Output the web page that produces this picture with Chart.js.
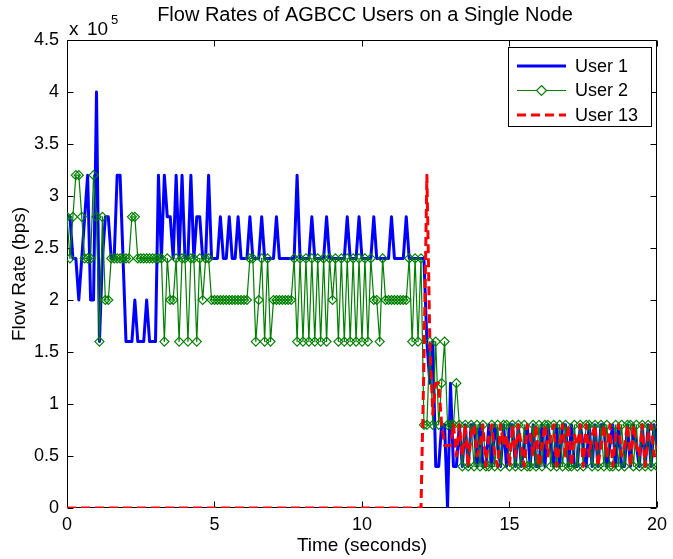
<!DOCTYPE html>
<html>
<head>
<meta charset="utf-8">
<title>Flow Rates of AGBCC Users on a Single Node</title>
<script src="https://cdn.jsdelivr.net/npm/chart.js@4.4.1/dist/chart.umd.min.js"></script>
<style>
  html, body { margin: 0; padding: 0; background: #fff; }
  #wrap { width: 673px; height: 559px; }
</style>
</head>
<body>
<div id="wrap"><canvas id="flowChart" width="673" height="559"></canvas></div>
<script>
// sampling interval of the trace, seconds
const SAMPLE_STEP = 0.1;

// flow rates in units of 1e5 bps, one sample per SAMPLE_STEP
const user1 = [
  2.8, 2.8, 2.4, 2.4, 2.0, 2.4, 2.8, 3.2, 2.0, 2.0,
  4.0, 1.6, 2.4, 2.8, 2.8, 2.4, 2.4, 3.2, 3.2, 2.4,
  1.6, 1.6, 1.6, 2.0, 1.6, 1.6, 1.6, 2.0, 1.6, 1.6,
  1.6, 3.2, 2.4, 3.2, 2.8, 2.8, 2.4, 3.2, 2.4, 3.2,
  2.4, 2.4, 3.2, 2.4, 2.8, 2.8, 2.4, 2.4, 3.2, 2.4,
  2.4, 2.4, 2.8, 2.4, 2.4, 2.8, 2.4, 2.4, 2.8, 2.4,
  2.4, 2.4, 2.8, 2.4, 2.4, 2.4, 2.8, 2.4, 2.4, 2.4,
  2.4, 2.8, 2.4, 2.4, 2.4, 2.4, 2.4, 2.4, 3.2, 2.4,
  2.4, 2.4, 2.4, 2.8, 2.4, 2.4, 2.4, 2.4, 2.8, 2.4,
  2.4, 2.4, 2.4, 2.4, 2.4, 2.8, 2.4, 2.4, 2.4, 2.8,
  2.4, 2.4, 2.4, 2.4, 2.8, 2.4, 2.4, 2.4, 2.4, 2.4,
  2.8, 2.4, 2.4, 2.4, 2.4, 2.8, 2.4, 2.4, 2.4, 2.4,
  2.4, 2.4, 1.6, 1.2, 1.6, 0.4, 0.4, 0.8, 0.8, 0.0,
  1.2, 0.4, 0.4, 0.8, 0.4, 0.8, 0.4, 0.8, 0.8, 0.4,
  0.8, 0.4, 0.4, 0.8, 0.4, 0.8, 0.6, 0.4, 0.8, 0.4,
  0.8, 0.8, 0.4, 0.8, 0.4, 0.6, 0.8, 0.4, 0.8, 0.4,
  0.4, 0.8, 0.4, 0.8, 0.6, 0.4, 0.8, 0.4, 0.8, 0.8,
  0.4, 0.8, 0.4, 0.4, 0.8, 0.6, 0.4, 0.8, 0.4, 0.8,
  0.4, 0.8, 0.8, 0.4, 0.6, 0.8, 0.4, 0.8, 0.4, 0.4,
  0.8, 0.4, 0.8, 0.6, 0.4, 0.8, 0.4, 0.8, 0.4, 0.8,
  0.6
];

const user2 = [
  2.8, 2.4, 2.8, 3.2, 3.2, 2.8, 2.4, 2.4, 2.4, 3.2,
  2.8, 1.6, 2.8, 2.0, 2.0, 2.4, 2.4, 2.4, 2.4, 2.4,
  2.4, 2.4, 2.8, 2.8, 2.4, 2.4, 2.4, 2.4, 2.4, 2.4,
  2.4, 2.4, 2.4, 1.6, 2.4, 2.0, 2.0, 2.4, 1.6, 2.4,
  2.4, 1.6, 2.4, 2.4, 1.6, 2.4, 2.0, 2.4, 2.4, 2.0,
  2.0, 2.0, 2.0, 2.0, 2.0, 2.0, 2.0, 2.0, 2.0, 2.0,
  2.0, 2.0, 2.4, 2.4, 1.6, 2.0, 2.4, 1.6, 2.4, 1.6,
  2.0, 2.0, 2.0, 2.0, 2.0, 2.0, 2.0, 2.4, 1.6, 2.4,
  1.6, 2.4, 1.6, 2.4, 1.6, 2.4, 1.6, 2.4, 1.6, 2.4,
  2.0, 2.4, 1.6, 2.4, 1.6, 2.4, 1.6, 2.4, 1.6, 2.4,
  1.6, 2.4, 1.6, 2.4, 2.0, 2.0, 1.6, 2.4, 2.0, 2.0,
  2.0, 2.0, 2.0, 2.0, 2.0, 2.0, 2.4, 1.6, 2.4, 1.6,
  2.4, 0.8, 0.8, 1.6, 0.8, 1.6, 0.8, 1.2, 1.6, 0.8,
  0.8, 0.8, 1.2, 0.8, 0.4, 0.8, 0.4, 0.8, 0.4, 0.8,
  0.4, 0.8, 0.4, 0.4, 0.8, 0.4, 0.8, 0.4, 0.8, 0.8,
  0.4, 0.8, 0.4, 0.8, 0.4, 0.8, 0.4, 0.4, 0.8, 0.4,
  0.8, 0.4, 0.8, 0.8, 0.4, 0.8, 0.4, 0.8, 0.4, 0.8,
  0.4, 0.4, 0.8, 0.4, 0.8, 0.4, 0.8, 0.8, 0.4, 0.8,
  0.4, 0.8, 0.4, 0.8, 0.4, 0.4, 0.8, 0.4, 0.8, 0.4,
  0.8, 0.8, 0.4, 0.8, 0.4, 0.8, 0.4, 0.8, 0.4, 0.8,
  0.4
];

const user13 = [
  0, 0, 0, 0, 0, 0, 0, 0, 0, 0,
  0, 0, 0, 0, 0, 0, 0, 0, 0, 0,
  0, 0, 0, 0, 0, 0, 0, 0, 0, 0,
  0, 0, 0, 0, 0, 0, 0, 0, 0, 0,
  0, 0, 0, 0, 0, 0, 0, 0, 0, 0,
  0, 0, 0, 0, 0, 0, 0, 0, 0, 0,
  0, 0, 0, 0, 0, 0, 0, 0, 0, 0,
  0, 0, 0, 0, 0, 0, 0, 0, 0, 0,
  0, 0, 0, 0, 0, 0, 0, 0, 0, 0,
  0, 0, 0, 0, 0, 0, 0, 0, 0, 0,
  0, 0, 0, 0, 0, 0, 0, 0, 0, 0,
  0, 0, 0, 0, 0, 0, 0, 0, 0, 0,
  0, 1.4, 3.2, 1.6, 0.9, 1.2, 1.2, 0.8, 0.6, 0.6,
  0.6, 0.8, 0.5, 0.8, 0.5, 0.8, 0.4, 0.7, 0.8, 0.5,
  0.6, 0.8, 0.4, 0.7, 0.8, 0.5, 0.4, 0.8, 0.6, 0.7,
  0.4, 0.8, 0.5, 0.8, 0.6, 0.4, 0.8, 0.7, 0.5, 0.8,
  0.4, 0.6, 0.8, 0.5, 0.7, 0.8, 0.4, 0.6, 0.8, 0.5,
  0.8, 0.4, 0.7, 0.6, 0.8, 0.4, 0.8, 0.5, 0.7, 0.8,
  0.4, 0.6, 0.8, 0.5, 0.8, 0.4, 0.7, 0.8, 0.5, 0.6,
  0.8, 0.4, 0.8, 0.6, 0.5, 0.8, 0.4, 0.7, 0.8, 0.5,
  0.6
];

const xTicks = [0, 5, 10, 15, 20];
const yTicks = [0, 0.5, 1, 1.5, 2, 2.5, 3, 3.5, 4, 4.5];

const FONT = '"Liberation Sans", Arial, Helvetica, sans-serif';
const TICK = 6;

const toPoints = arr => arr.map((v, i) => ({ x: Math.round(i * SAMPLE_STEP * 10) / 10, y: v }));

const legendItems = [
  { label: 'User 1', color: '#0000ff', width: 3, dash: [] },
  { label: 'User 2', color: '#008000', width: 1.2, dash: [], marker: true },
  { label: 'User 13', color: '#ff0000', width: 3, dash: [9, 5] }
];

// axes box, inward ticks, titles and the legend box
const decorations = {
  id: 'decorations',
  beforeDatasetsDraw(chart) {
    const { ctx, chartArea: a, scales: { x, y } } = chart;
    const L = Math.round(a.left) + 0.5, R = Math.round(a.right) - 0.5;
    const T = Math.round(a.top) + 0.5, B = Math.round(a.bottom) - 0.5;
    ctx.save();
    ctx.strokeStyle = '#000';
    ctx.lineWidth = 1;
    ctx.beginPath();
    ctx.rect(L, T, R - L, B - T);
    xTicks.forEach(v => {
      const px = Math.round(x.getPixelForValue(v)) + 0.5;
      ctx.moveTo(px, B); ctx.lineTo(px, B - TICK);
      ctx.moveTo(px, T); ctx.lineTo(px, T + TICK);
    });
    yTicks.forEach(v => {
      const py = Math.round(y.getPixelForValue(v)) + 0.5;
      ctx.moveTo(L, py); ctx.lineTo(L + TICK, py);
      ctx.moveTo(R, py); ctx.lineTo(R - TICK, py);
    });
    ctx.stroke();
    ctx.restore();
  },
  afterDraw(chart) {
    const { ctx, chartArea: a } = chart;
    ctx.save();
    ctx.fillStyle = '#000';

    // title
    ctx.font = `20px ${FONT}`;
    ctx.textAlign = 'center';
    ctx.textBaseline = 'middle';
    ctx.fillText('Flow Rates of AGBCC Users on a Single Node', 365, 15);

    // axis labels
    ctx.font = `19px ${FONT}`;
    ctx.fillText('Time (seconds)', (a.left + a.right) / 2, 546);
    ctx.save();
    ctx.translate(20, (a.top + a.bottom) / 2);
    ctx.rotate(-Math.PI / 2);
    ctx.fillText('Flow Rate (bps)', 0, 0);
    ctx.restore();

    // exponent of the y axis
    ctx.textAlign = 'left';
    ctx.textBaseline = 'alphabetic';
    ctx.font = `19px ${FONT}`;
    ctx.fillText('x', 69, 35);
    ctx.fillText('10', 87, 35);
    ctx.font = `13px ${FONT}`;
    ctx.fillText('5', 111, 24);

    // legend
    const box = { x: 508.5, y: 47.5, w: 143, h: 79 };
    ctx.fillStyle = '#fff';
    ctx.fillRect(box.x, box.y, box.w, box.h);
    ctx.strokeStyle = '#000';
    ctx.lineWidth = 1;
    ctx.strokeRect(box.x, box.y, box.w, box.h);
    ctx.font = `18px ${FONT}`;
    ctx.textBaseline = 'middle';
    legendItems.forEach((it, k) => {
      const ly = 66 + k * 24.5;
      ctx.strokeStyle = it.color;
      ctx.lineWidth = it.width;
      ctx.setLineDash(it.dash);
      ctx.beginPath();
      ctx.moveTo(517, ly);
      ctx.lineTo(566, ly);
      ctx.stroke();
      ctx.setLineDash([]);
      if (it.marker) {
        ctx.lineWidth = 1.2;
        ctx.beginPath();
        ctx.moveTo(541.5, ly - 5);
        ctx.lineTo(546.5, ly);
        ctx.lineTo(541.5, ly + 5);
        ctx.lineTo(536.5, ly);
        ctx.closePath();
        ctx.fillStyle = '#fff';
        ctx.fill();
        ctx.stroke();
      }
      ctx.fillStyle = '#000';
      ctx.fillText(it.label, 575, ly + 1);
    });
    ctx.restore();
  }
};

const ctx = document.getElementById('flowChart').getContext('2d');
const flowChart = new Chart(ctx, {
  type: 'line',
  data: {
    datasets: [
      {
        label: 'User 13',
        data: toPoints(user13),
        borderColor: '#ff0000',
        borderWidth: 3,
        borderDash: [9, 5],
        pointRadius: 0,
        order: 0
      },
      {
        label: 'User 2',
        data: toPoints(user2),
        borderColor: '#008000',
        borderWidth: 1.2,
        pointStyle: 'rectRot',
        pointRadius: 4.5,
        pointBorderColor: '#008000',
        pointBackgroundColor: 'rgba(0,0,0,0)',
        pointBorderWidth: 1.2,
        order: 1
      },
      {
        label: 'User 1',
        data: toPoints(user1),
        borderColor: '#0000ff',
        borderWidth: 3,
        pointRadius: 0,
        order: 2
      }
    ]
  },
  options: {
    responsive: false,
    animation: false,
    devicePixelRatio: 1,
    layout: { padding: { top: 40, right: 13, left: 0, bottom: 0 } },
    elements: { line: { tension: 0, borderJoinStyle: 'round' } },
    plugins: {
      legend: { display: false },
      title: { display: false },
      tooltip: { enabled: false }
    },
    scales: {
      x: {
        type: 'linear',
        min: 0,
        max: 20,
        afterBuildTicks: s => { s.ticks = xTicks.map(v => ({ value: v })); },
        afterFit: s => { s.height = 51; },
        grid: { display: false, drawTicks: false },
        border: { display: false },
        ticks: {
          color: '#000',
          font: { family: FONT, size: 18 },
          padding: 6,
          maxRotation: 0,
          callback: v => String(v)
        }
      },
      y: {
        type: 'linear',
        min: 0,
        max: 4.5,
        afterBuildTicks: s => { s.ticks = yTicks.map(v => ({ value: v })); },
        afterFit: s => { s.width = 67; },
        grid: { display: false, drawTicks: false },
        border: { display: false },
        ticks: {
          color: '#000',
          font: { family: FONT, size: 18 },
          padding: 8,
          callback: v => String(v)
        }
      }
    }
  },
  plugins: [decorations]
});
</script>
</body>
</html>
